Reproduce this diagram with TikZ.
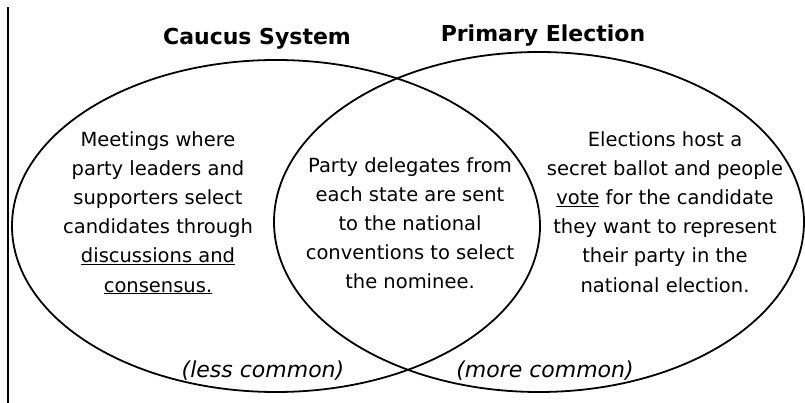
\documentclass[tikz,border=0pt]{standalone}
\usepackage{fontspec}
\setmainfont{DejaVu Sans}
\usetikzlibrary{shapes.geometric}

\begin{document}
\begin{tikzpicture}[x=1pt, y=-1pt, venn/.style={ ellipse, draw,
    line width=1.8pt, inner sep=0pt }, heading/.style={ anchor=base,
    inner sep=0pt, font=\fontsize{22}{26}\selectfont\bfseries },
  body/.style={ anchor=north, align=center, inner sep=0pt,
    font=\fontsize{19.5}{29.2}\selectfont }, remark/.style={
    anchor=base, inner sep=0pt, font=\fontsize{22}{26}\selectfont\itshape } ]
  \useasboundingbox (0,0) rectangle (805,403);
  \draw[line width=1.8pt] (8,7) -- (8,403);

  \node[venn,minimum width=528pt,minimum height=332pt] (caucus) at (276,226) {};
  \node[venn,minimum width=530pt,minimum height=340pt] (primary) at (539,222) {};

  \node[heading] (caucustitle) at (257,45) {Caucus System};
  \node[heading] (primarytitle) at (543,42) {Primary Election};

  \node[body] (caucustext) at (158,131) {Meetings where\\party leaders and\\
    supporters select\\candidates through\\\underline{discussions and}\\
    \underline{consensus.}};
  \node[body] (bothtext) at (410,157) {Party delegates from\\each state are sent\\
    to the national\\conventions to select\\the nominee.};
  \node[body] (primarytext) at (665,131) {Elections host a\\secret ballot and people\\
    \underline{vote} for the candidate\\they want to represent\\their party in the\\
    national election.};

  \node[remark] (caucusnote) at (263,377) {(less common)};
  \node[remark] (primarynote) at (545,377) {(more common)};

\end{tikzpicture}
\end{document}
